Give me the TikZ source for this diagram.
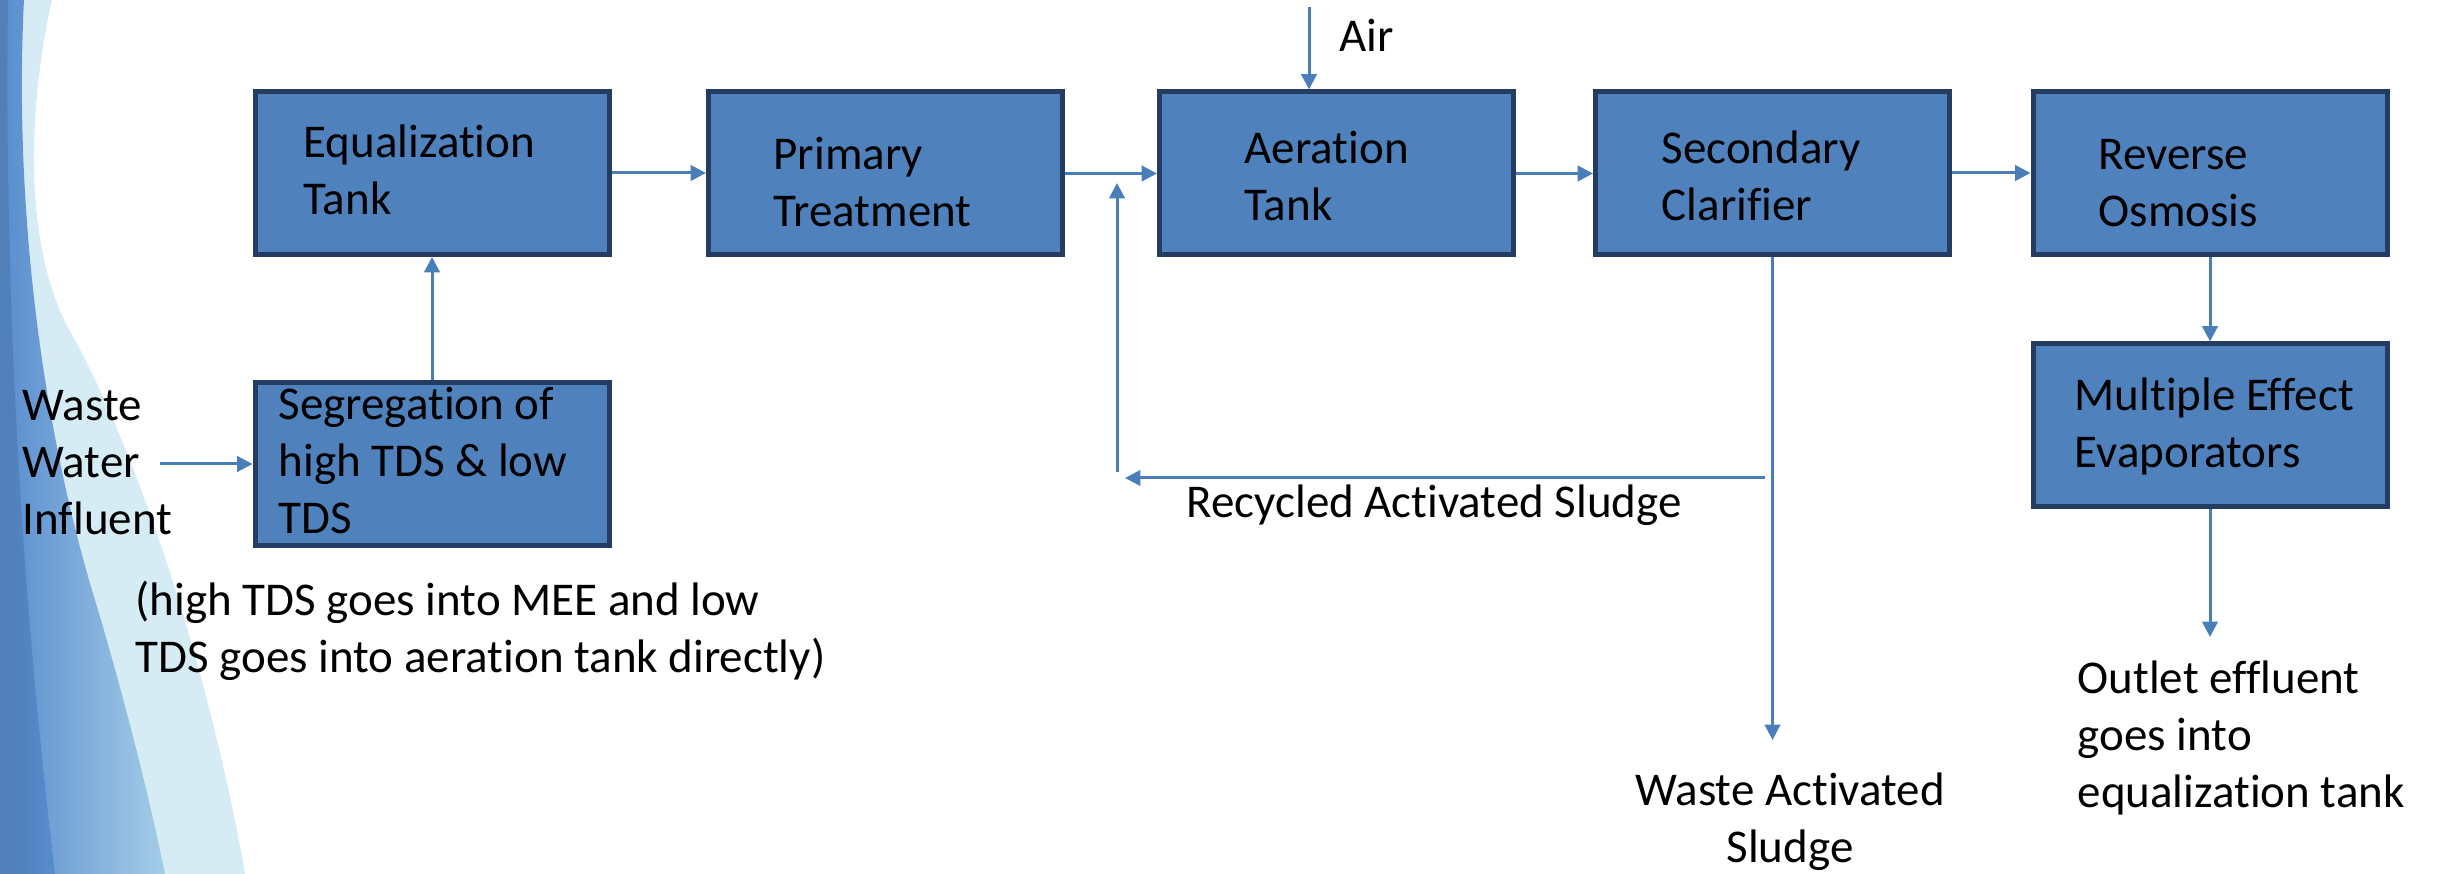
\documentclass[tikz,border=0pt]{standalone}
\usepackage{fontspec}
\setmainfont{Carlito}[Ligatures=NoCommon]
\usetikzlibrary{arrows.meta}
\definecolor{boxfill}{RGB}{79,129,189}
\definecolor{boxline}{RGB}{35,60,95}
\definecolor{arrowc}{RGB}{74,126,187}
\definecolor{swlight}{RGB}{214,236,245}
\definecolor{swmid}{RGB}{165,205,232}
\definecolor{swdark}{RGB}{88,140,205}
\begin{document}
\begin{tikzpicture}[x=0.3pt,y=-0.3pt,
  every node/.style={inner sep=0pt,font=\fontsize{14.1}{17.1}\selectfont},
  procbox/.style={draw=boxline,fill=boxfill,line width=1.5pt,minimum width=106.2pt,minimum height=48.9pt},
  lbl/.style={anchor=base west,align=left},
  flow/.style={draw=arrowc,line width=0.9pt,-{Triangle[length=4.6pt,width=4.6pt]}}]
\useasboundingbox (0,0) rectangle (2442,874);
% background swoosh
\fill[swlight] (0,0) -- (52,0) .. controls (25,120) and (25,260) .. (75,340)
  .. controls (150,480) and (215,700) .. (245,874) -- (0,874) -- cycle;
\shade[left color=swdark,right color=swmid] (0,0) -- (24,0) .. controls (14,200) and (40,420) .. (95,600)
  .. controls (125,700) and (150,800) .. (165,874) -- (0,874) -- cycle;
\shade[left color=swdark!90!black,right color=swdark] (0,0) -- (8,0) .. controls (4,300) and (22,600) .. (55,874) -- (0,874) -- cycle;
% boxes
\node[procbox] (eq)  at (432,173) {};
\node[procbox] (pt)  at (885.5,173.5) {};
\node[procbox] (aer) at (1336.5,173.5) {};
\node[procbox] (sc)  at (1772.5,173) {};
\node[procbox] (ro)  at (2210,173.5) {};
\node[procbox] (mee) at (2210,425.5) {};
\node[procbox] (seg) at (432,464.5) {};
% box texts (anchor = baseline of the last line)
\node[lbl] (eqt)  at (303,215)  {Equalization\\Tank};
\node[lbl] (ptt)  at (773,227)  {Primary\\Treatment};
\node[lbl] (aert) at (1244,221) {Aeration\\Tank};
\node[lbl] (sct)  at (1661,221) {Secondary\\Clarifier};
\node[lbl] (rot)  at (2098,227) {Reverse\\Osmosis};
\node[lbl] (meet) at (2074,468) {Multiple Effect\\Evaporators};
\node[lbl] (segt) at (278,534)  {Segregation of\\high TDS \& low\\TDS};
% free labels
\node[lbl] (air)  at (1339,52)  {Air};
\node[lbl] (wwi)  at (22,535)   {Waste\\Water\\Influent};
\node[lbl] (note) at (135,673)  {(high TDS goes into MEE and low\\TDS goes into aeration tank directly)};
\node[lbl] (ras)  at (1186,518) {Recycled Activated Sludge};
\node[anchor=base,align=center] (was) at (1790,862) {Waste Activated\\Sludge};
\node[lbl] (outl) at (2077,807) {Outlet effluent\\goes into\\equalization tank};
% connectors
\draw[flow] (eq.east) -- (eq.east -| pt.west);
\draw[flow] (pt.east) -- (pt.east -| aer.west);
\draw[flow] (aer.east) -- (aer.east -| sc.west);
\draw[flow] (sc.east) -- (sc.east -| ro.west);
\draw[flow] (ro.south) -- (mee.north);
\draw[flow] (seg.north) -- (eq.south);
\coordinate (airtop) at (1309,7);
\draw[flow] (airtop) -- (airtop |- aer.north);
\coordinate (wwin) at (160,464);
\draw[flow] (wwin) -- (wwin -| seg.west);
\coordinate (rasR) at (1765,478);
\coordinate (rasL) at (1125,478);
\draw[flow] (rasR) -- (rasL);
\coordinate (rasB) at (1117,472);
\coordinate (rasT) at (1117,183);
\draw[flow] (rasB) -- (rasT);
\coordinate (wasEnd) at (1772.5,740);
\draw[flow] (sc.south) -- (wasEnd);
\coordinate (outEnd) at (2210,637);
\draw[flow] (mee.south) -- (outEnd);
\end{tikzpicture}
\end{document}
